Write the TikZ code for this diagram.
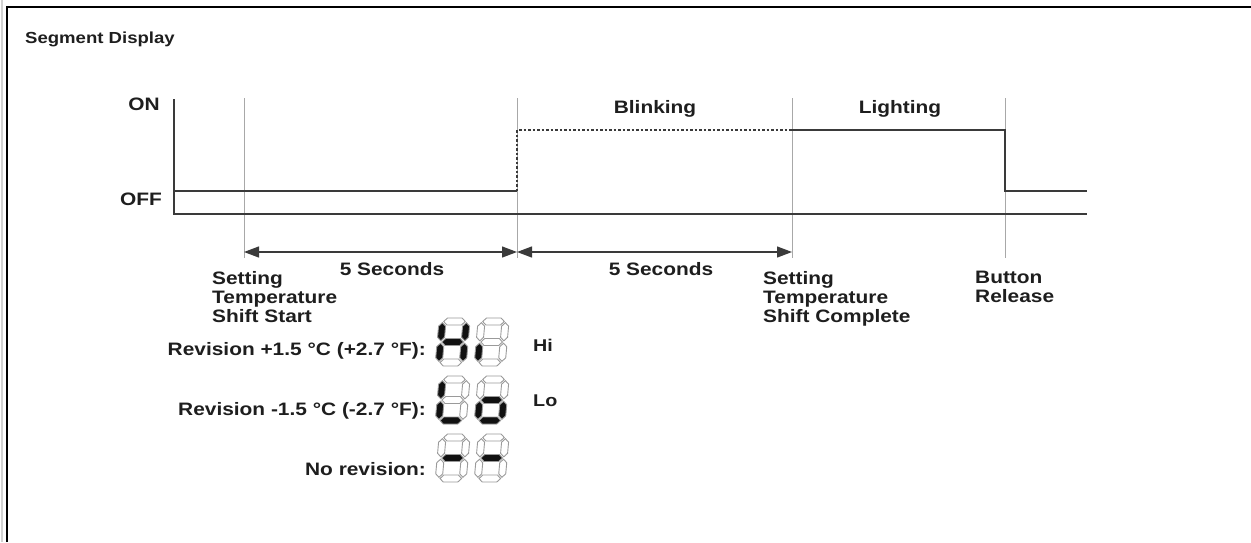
\documentclass[tikz,border=0pt]{standalone}
\usepackage{fontspec}
\setmainfont{Liberation Sans}[FakeStretch=1.16]
\usetikzlibrary{arrows.meta}
\definecolor{ink}{HTML}{1E1E1E}
\definecolor{sig}{HTML}{3A3A3A}
\definecolor{guide}{HTML}{A8A8A8}
\definecolor{segline}{HTML}{9A9A9A}
\definecolor{segon}{HTML}{111111}
\tikzset{
  lbl/.style={font=\fontsize{18}{19}\selectfont\bfseries, text=ink, inner sep=0pt},
  titlelbl/.style={font=\fontsize{16}{18}\selectfont\bfseries, text=ink, inner sep=0pt},
  small/.style={font=\fontsize{17}{19}\selectfont\bfseries, text=ink, inner sep=0pt},
  guideline/.style={draw=guide, line width=0.9pt},
  signal/.style={draw=sig, line width=1.4pt},
  blink/.style={draw=sig, line width=1.4pt, dash pattern=on 2.5pt off 2pt},
  dimline/.style={draw=sig, line width=1.3pt,
    {Triangle[length=15pt,width=11pt]}-{Triangle[length=15pt,width=11pt]}},
  seg/.style={draw=segline, line width=0.9pt, line join=miter},
}
\newcommand{\hsg}[2]{\filldraw[seg, fill=#2] (4.7,#1) -- (8.2,#1+3.5) -- (22.8,#1+3.5) -- (26.3,#1) -- (22.8,#1-3.5) -- (8.2,#1-3.5) -- cycle;}
\newcommand{\vsg}[4]{\filldraw[seg, fill=#4] (#1,#2+1.2) -- (#1+3.5,#2+4.7) -- (#1+3.5,#3-4.7) -- (#1,#3-1.2) -- (#1-3.5,#3-4.7) -- (#1-3.5,#2+4.7) -- cycle;}
\newcommand{\sdig}[9]{%
  \begin{scope}[shift={(#1,#2)}, y=1pt, xslant=0.09]
    \hsg{44.5}{#3}
    \vsg{27.5}{24}{44.5}{#4}
    \vsg{27.5}{3.5}{24}{#5}
    \hsg{3.5}{#6}
    \vsg{3.5}{3.5}{24}{#7}
    \vsg{3.5}{24}{44.5}{#8}
    \hsg{24}{#9}
  \end{scope}}
\begin{document}
\begin{tikzpicture}[x=1pt,y=-1pt]
\useasboundingbox (0,0) rectangle (1251,542);
\fill[white] (0,0) rectangle (1251,542);
% frame
\draw[gray!35, line width=1.6pt] (2,0) -- (2,542);
\draw[black, line width=1.6pt] (7,542) -- (7,7) -- (1251,7);

% title
\node[titlelbl, anchor=base west] (title) at (25,43) {Segment Display};

% axis labels
\node[lbl, anchor=base east] (on) at (160,110) {ON};
\node[lbl, anchor=base east] (off) at (162,205) {OFF};

% coordinates
\coordinate (axt) at (174,99);
\coordinate (axb) at (174,214);
\coordinate (bend) at (1087,214);
\coordinate (v1t) at (244,98);  \coordinate (v1b) at (244,258);
\coordinate (v2t) at (517,98);  \coordinate (v2b) at (517,258);
\coordinate (v3t) at (792,98);  \coordinate (v3b) at (792,258);
\coordinate (v4t) at (1005,98); \coordinate (v4b) at (1005,258);
\coordinate (s0) at (174,191);
\coordinate (s1) at (517,191);
\coordinate (s2) at (517,130);
\coordinate (s3) at (792,130);
\coordinate (s4) at (1005,130);
\coordinate (s5) at (1005,191);
\coordinate (s6) at (1087,191);
\coordinate (a1) at (244,252);
\coordinate (a2) at (517,252);
\coordinate (a3) at (792,252);

% guide lines
\draw[guideline] (v1t) -- (v1b);
\draw[guideline] (v2t) -- (v2b);
\draw[guideline] (v3t) -- (v3b);
\draw[guideline] (v4t) -- (v4b);

% axes and signal
\draw[signal] (axt) -- (axb) -- (bend);
\draw[signal] (s0) -- (s1);
\draw[blink] (s1) -- (s2) -- (s3);
\draw[signal] (s3) -- (s4) -- (s5) -- (s6);

% dimension arrows
\draw[dimline] (a1) -- (a2);
\draw[dimline] (a2) -- (a3);

% state labels
\node[lbl, anchor=base] (blinking) at (655,113) {Blinking};
\node[lbl, anchor=base] (lighting) at (900,113) {Lighting};
\node[lbl, anchor=base] (sec1) at (392,275) {5 Seconds};
\node[lbl, anchor=base] (sec2) at (661,275) {5 Seconds};

% event labels
\node[lbl, anchor=north west, align=left] (start) at (212,271) {Setting\\Temperature\\Shift Start};
\node[lbl, anchor=north west, align=left] (complete) at (763,271) {Setting\\Temperature\\Shift Complete};
\node[lbl, anchor=north west, align=left] (release) at (975,271) {Button\\Release};

% revision labels
\node[lbl, anchor=base east] (revp) at (426,355) {Revision +1.5 °C (+2.7 °F):};
\node[lbl, anchor=base east] (revm) at (426,415) {Revision -1.5 °C (-2.7 °F):};
\node[lbl, anchor=base east] (revn) at (426,475) {No revision:};
\node[small, anchor=base west] (hi) at (533,351) {Hi};
\node[small, anchor=base west] (lo) at (533,406) {Lo};

% digits: a b c d e f g
\sdig{435}{366}{white}{segon}{segon}{white}{segon}{segon}{segon}
\sdig{474}{366}{white}{white}{white}{white}{segon}{white}{white}
\sdig{435}{424}{white}{white}{white}{segon}{segon}{segon}{white}
\sdig{474}{424}{white}{white}{segon}{segon}{segon}{white}{segon}
\sdig{435}{482}{white}{white}{white}{white}{white}{white}{segon}
\sdig{474}{482}{white}{white}{white}{white}{white}{white}{segon}
\end{tikzpicture}
\end{document}
